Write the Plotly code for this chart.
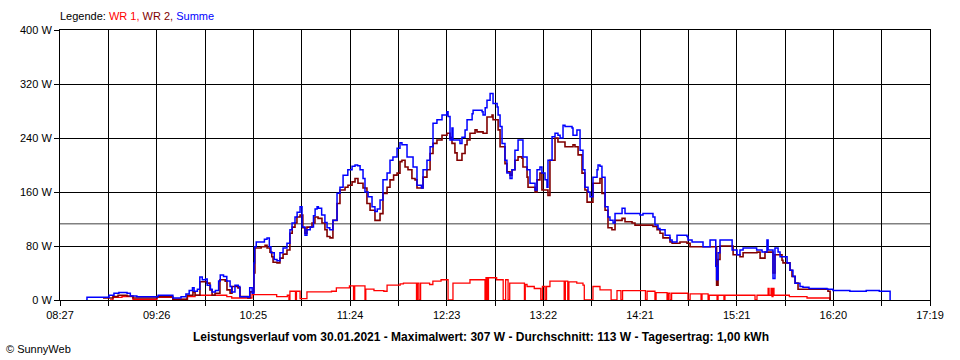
import plotly.graph_objects as go

# ---------------- data (time in minutes after midnight, power in W) ----------------
x_labels = ["08:27", "09:26", "10:25", "11:24", "12:23", "13:22", "14:21", "15:21", "16:20", "17:19"]
y_ticks = [0, 80, 160, 240, 320, 400]
avg_value = 113

wr1_points = [
    (537.6, 0), (539.4, 4), (544.9, 5), (551.6, 1), (566.3, 4), (574.3, 4), (576.0, 1), (585.0, 5),
    (589.6, 7), (596.9, 7), (609.0, 5), (612.0, 3), (617.0, 3), (624.4, 8), (639.5, 5), (646.0, 7),
    (647.0, 0), (647.6, 13), (651.0, 0), (651.6, 13), (653.8, 2), (658.0, 12), (673.0, 13), (676.0, 18),
    (684.0, 21), (686.5, 0), (687.2, 21), (693.5, 0), (694.0, 16), (699.0, 14), (705.0, 13), (707.0, 22),
    (715.0, 24), (717.0, 25), (725.0, 0), (725.6, 25), (726.5, 0), (727.5, 25), (733.0, 23), (735.0, 28),
    (740.0, 30), (744.3, 0), (747.3, 25), (757.7, 30), (766.9, 0), (767.5, 33), (768.2, 0), (769.0, 33),
    (774.0, 30), (778.0, 0), (779.5, 30), (781.0, 0), (782.0, 25), (791.0, 0), (791.5, 23), (792.6, 20),
    (797.0, 17), (801.0, 0), (802.0, 20), (803.6, 0), (804.5, 20), (806.6, 28), (815.3, 0), (816.0, 28),
    (817.5, 0), (818.2, 27), (823.0, 25), (826.8, 22), (827.6, 0), (832.9, 20), (837.2, 15), (844.0, 0),
    (847.6, 14), (850.0, 0), (851.0, 14), (865.0, 0), (866.0, 13), (870.8, 0), (871.5, 11), (878.2, 0),
    (879.0, 10), (880.0, 0), (881.0, 10), (891.0, 0), (892.3, 9), (899.0, 0), (899.6, 9), (903.3, 0),
    (904.0, 7), (908.8, 0), (909.4, 7), (913.0, 0), (913.6, 7), (932.0, 0), (933.2, 7), (940.0, 17),
    (940.6, 7), (941.8, 17), (942.4, 5), (943.0, 17), (943.6, 7), (953.0, 5), (963.8, 3), (977.9, 0),
]

wr2_points = [
    (533.3, 3), (539.4, 5), (542.5, 7), (548.0, 6), (551.6, 3), (566.3, 5), (576.0, 1), (584.7, 7),
    (588.3, 12), (589.6, 7), (592.6, 27), (596.9, 25), (598.7, 15), (600.0, 7), (601.8, 10), (604.8, 30),
    (608.0, 28), (609.1, 15), (611.0, 10), (612.2, 20), (615.8, 18), (617.1, 5), (621.9, 3), (623.2, 12),
    (625.6, 40), (626.2, 77), (630.0, 79), (632.4, 81), (633.6, 77), (635.4, 71), (636.5, 64), (637.3, 56),
    (639.7, 55), (641.5, 62), (643.4, 68), (645.8, 74), (647.6, 99), (649.0, 108), (650.7, 114), (651.9, 123),
    (653.8, 126), (655.5, 107), (656.8, 99), (658.0, 108), (661.1, 114), (662.9, 123), (664.8, 121), (667.2, 114),
    (669.0, 104), (670.3, 94), (672.1, 92), (673.9, 118), (676.4, 143), (678.2, 163), (681.3, 167), (683.1, 170),
    (685.6, 175), (687.4, 180), (689.2, 173), (692.3, 166), (694.7, 143), (696.6, 133), (699.6, 118), (700.9, 118),
    (702.7, 128), (704.5, 158), (707.0, 167), (708.8, 178), (711.0, 185), (713.1, 188), (714.9, 205), (716.1, 207),
    (718.0, 197), (719.8, 193), (722.2, 180), (724.1, 178), (725.3, 166), (728.4, 166), (729.0, 182), (731.4, 193),
    (733.3, 217), (735.1, 232), (737.5, 237), (740.6, 244), (743.6, 247), (745.5, 241), (746.7, 232), (748.5, 218),
    (749.8, 207), (751.6, 207), (752.8, 217), (754.7, 230), (755.9, 237), (757.7, 247), (760.8, 252), (762.0, 249),
    (765.7, 247), (768.1, 271), (771.2, 274), (771.8, 267), (774.9, 252), (776.1, 227), (779.1, 202), (780.3, 190),
    (782.2, 185), (783.4, 193), (785.2, 207), (787.1, 212), (789.5, 210), (790.1, 197), (792.6, 182), (793.2, 167),
    (797.5, 160), (798.7, 178), (800.5, 188), (801.7, 163), (805.4, 155), (806.6, 207), (809.7, 240), (811.5, 234),
    (815.8, 227), (817.0, 227), (820.7, 230), (821.9, 227), (823.8, 215), (826.2, 188), (828.0, 163), (829.3, 145),
    (831.1, 145), (832.9, 173), (837.2, 180), (838.4, 158), (840.3, 133), (842.1, 107), (844.5, 104), (846.4, 118),
    (850.7, 121), (852.5, 116), (856.8, 114), (858.6, 111), (863.5, 111), (869.6, 109), (872.1, 104), (873.9, 99),
    (875.7, 92), (880.0, 86), (881.3, 84), (886.1, 86), (890.4, 84), (892.3, 79), (905.7, 79), (908.5, 22),
    (909.4, 60), (910.6, 80), (916.7, 80), (918.6, 67), (922.8, 64), (924.7, 70), (933.2, 71), (935.1, 62),
    (938.1, 71), (942.4, 71), (943.0, 40), (944.2, 67), (946.1, 67), (948.5, 59), (949.1, 55), (953.4, 44),
    (954.6, 35), (956.5, 25), (958.3, 16), (976.6, 13), (977.9, 0),
]

summe_points = [
    (523.0, 0), (523.5, 4), (537.0, 7), (540.0, 10), (543.0, 11), (548.0, 10), (550.0, 6), (554.0, 5),
    (566.0, 5), (567.0, 7), (576.0, 3), (581.0, 5), (584.0, 9), (586.0, 14), (588.0, 18), (589.0, 13),
    (591.0, 16), (592.5, 34), (594.0, 30), (596.0, 31), (597.0, 22), (599.0, 16), (600.0, 12), (602.0, 14),
    (604.0, 28), (605.0, 37), (607.0, 35), (609.0, 28), (611.0, 20), (612.0, 12), (614.0, 22), (616.0, 20),
    (617.0, 5), (622.0, 4), (623.0, 18), (624.5, 10), (625.6, 55), (626.0, 79), (627.0, 86), (630.0, 86),
    (632.0, 90), (633.6, 92), (635.0, 79), (636.0, 70), (638.0, 60), (639.7, 58), (641.5, 70), (643.4, 77),
    (645.8, 84), (647.6, 104), (648.9, 114), (650.7, 123), (652.0, 130), (653.8, 138), (655.0, 108), (656.8, 96),
    (658.0, 104), (660.0, 108), (662.0, 125), (663.0, 135), (664.2, 138), (665.0, 136), (667.0, 126), (669.0, 115),
    (670.3, 107), (672.0, 104), (673.9, 118), (676.4, 158), (678.2, 167), (680.1, 185), (683.0, 193), (685.6, 198),
    (687.4, 200), (689.0, 199), (690.5, 193), (692.3, 180), (693.5, 160), (695.4, 153), (697.8, 138), (699.6, 131),
    (701.0, 135), (702.7, 148), (704.5, 178), (707.0, 188), (708.8, 207), (710.6, 212), (713.1, 225), (714.9, 233),
    (716.1, 230), (719.2, 212), (722.9, 197), (725.3, 170), (728.0, 166), (729.0, 193), (731.4, 207), (733.3, 227),
    (735.1, 262), (737.5, 267), (740.6, 274), (743.6, 279), (744.3, 272), (745.5, 237), (746.7, 255), (747.3, 237),
    (751.6, 232), (752.8, 241), (754.7, 252), (755.9, 267), (759.0, 276), (759.6, 281), (765.1, 279), (765.7, 274),
    (767.0, 285), (768.1, 296), (770.0, 306), (771.2, 306), (771.8, 291), (774.3, 286), (774.9, 274), (776.1, 257),
    (777.3, 232), (779.1, 207), (780.3, 188), (782.2, 180), (783.4, 193), (785.2, 222), (787.1, 237), (789.5, 237),
    (790.1, 212), (792.6, 193), (794.4, 173), (797.5, 163), (798.7, 193), (800.5, 197), (801.7, 188), (803.6, 178),
    (804.8, 167), (805.4, 207), (807.9, 242), (809.7, 247), (811.5, 244), (812.8, 240), (814.6, 259), (815.8, 257),
    (820.1, 255), (820.7, 244), (823.1, 252), (825.0, 222), (826.8, 193), (828.0, 167), (829.9, 160), (831.1, 153),
    (832.9, 182), (835.4, 193), (836.0, 200), (837.2, 198), (838.4, 182), (840.3, 138), (842.1, 123), (843.3, 118),
    (845.2, 114), (846.4, 128), (850.7, 136), (852.5, 128), (861.7, 126), (863.5, 128), (869.6, 123), (870.8, 111),
    (872.7, 106), (873.9, 104), (877.0, 96), (880.0, 89), (881.3, 86), (884.3, 96), (890.4, 94), (891.0, 89),
    (893.5, 86), (900.2, 79), (904.5, 89), (908.0, 50), (908.5, 30), (909.4, 70), (910.6, 89), (916.7, 89),
    (918.0, 74), (921.0, 67), (922.8, 74), (924.7, 77), (933.0, 74), (936.3, 71), (939.3, 89), (940.0, 74),
    (942.4, 74), (943.0, 32), (944.2, 77), (946.1, 71), (947.3, 64), (951.6, 55), (953.4, 44), (955.2, 35),
    (956.5, 25), (959.5, 20), (961.3, 19), (965.0, 17), (976.0, 16), (979.7, 14), (990.0, 13), (1000.0, 14),
    (1008.0, 13), (1014.5, 13), (1014.6, 0),
]

legend_text = ("Legende: <span style='color:#ff0000'>WR 1,</span> "
               "<span style='color:#800000'>WR 2,</span> "
               "<span style='color:#0000ff'>Summe</span>")
title_text = ("Leistungsverlauf vom 30.01.2021 - Maximalwert: 307 W - Durchschnitt: 113 W - "
              "Tagesertrag: 1,00 kWh")
credit_text = "© SunnyWeb"

# ---------------- figure ----------------
FONT = "Liberation Sans, Arial, sans-serif"
t_start, t_end = 507, 1039  # 08:27 .. 17:19
n_div = 2 * (len(x_labels) - 1)
tickvals = [t_start + i * (t_end - t_start) / n_div for i in range(n_div + 1)]
ticktext = [x_labels[i // 2] if i % 2 == 0 else "" for i in range(n_div + 1)]

fig = go.Figure()


def add_series(points, color, width, name):
    fig.add_trace(go.Scatter(
        x=[p[0] for p in points], y=[p[1] for p in points],
        mode="lines", name=name,
        line=dict(color=color, width=width, shape="hv"),
        hoverinfo="skip",
    ))


add_series(wr1_points, "#ff0000", 1.3, "WR 1")
add_series(wr2_points, "#800000", 1.6, "WR 2")
add_series(summe_points, "#0000ff", 1.5, "Summe")

fig.add_shape(type="line", xref="paper", x0=0, x1=1, yref="y", y0=avg_value, y1=avg_value,
              line=dict(color="#808080", width=1.5), layer="below")

fig.update_layout(
    width=960, height=360,
    margin=dict(l=60, r=30, t=30, b=60),
    paper_bgcolor="white", plot_bgcolor="white",
    showlegend=False,
    font=dict(family=FONT, size=11, color="black"),
    xaxis=dict(
        range=[t_start, t_end], tickmode="array", tickvals=tickvals, ticktext=ticktext,
        showgrid=True, gridcolor="black", gridwidth=1,
        showline=True, linecolor="black", linewidth=1, mirror=True,
        ticks="outside", ticklen=5, tickcolor="black", zeroline=False,
        tickfont=dict(family=FONT, size=11, color="black"),
    ),
    yaxis=dict(
        range=[0, 400], tickmode="array", tickvals=y_ticks,
        ticktext=[f"{v} W" for v in y_ticks],
        showgrid=True, gridcolor="black", gridwidth=1,
        showline=True, linecolor="black", linewidth=1, mirror=True,
        ticks="outside", ticklen=5, tickcolor="black", zeroline=False,
        tickfont=dict(family=FONT, size=11, color="black"),
    ),
    annotations=[
        dict(text=legend_text, xref="paper", yref="paper", x=-0.002, y=1 + 14 / 270,
             xanchor="left", yanchor="middle", showarrow=False,
             font=dict(family=FONT, size=11, color="black")),
        dict(text="<b>" + title_text + "</b>", xref="paper", yref="paper",
             x=(480.5 - 60) / 870, y=(300 - 336.5) / 270,
             xanchor="center", yanchor="middle", showarrow=False,
             font=dict(family=FONT, size=12, color="black")),
        dict(text=credit_text, xref="paper", yref="paper",
             x=(4 - 60) / 870, y=(300 - 349) / 270,
             xanchor="left", yanchor="middle", showarrow=False,
             font=dict(family=FONT, size=11, color="black")),
    ],
)

fig.write_html("out.html", config={"displayModeBar": False},
               post_script="document.body.style.margin='0';document.body.style.overflow='hidden';")
